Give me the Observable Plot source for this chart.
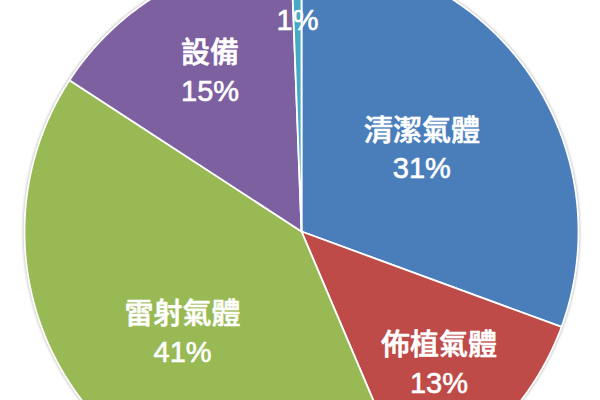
<!DOCTYPE html>
<html>
<head>
<meta charset="utf-8">
<script src="https://cdn.jsdelivr.net/npm/d3@7"></script>
<script src="https://cdn.jsdelivr.net/npm/@observablehq/plot@0.6"></script>
<style>
  html, body { margin: 0; padding: 0; background: #fff; }
  #chart svg g[aria-label="line"] { filter: drop-shadow(0px 0px 1.5px rgba(0,0,0,0.35)); }
</style>
</head>
<body>
<div id="chart"></div>
<script>
// Data, clockwise from 12 o'clock
const categories = ["清潔氣體", "佈植氣體", "雷射氣體", "設備", "其他"];
const values = [30.6, 13.0, 40.6, 15.2, 0.6];
const showName = [true, true, true, true, false];
const colors = ["#4A7EBB", "#BE4B48", "#98B954", "#7D60A0", "#46AAC5"];

// Layout
const W = 600, H = 400;
const cx = 301, cy = 231, R = 277;
const labelRadiusFrac = [0.53, 0.685, 0.56, 0.67, 0.77];

const total = d3.sum(values);
const arcs = d3.pie().sort(null).startAngle(0).endAngle(2 * Math.PI)(values);

// Slice outlines (center + sampled arc), in a coordinate system centred on the pie
const slicePts = [];
arcs.forEach((a, i) => {
  const name = categories[i];
  slicePts.push({name, x: 0, y: 0});
  const n = Math.max(2, Math.ceil((a.endAngle - a.startAngle) / (Math.PI / 360)));
  for (let k = 0; k <= n; k++) {
    const t = a.startAngle + (a.endAngle - a.startAngle) * k / n;
    slicePts.push({name, x: R * Math.sin(t), y: R * Math.cos(t)});
  }
});

const labels = arcs.map((a, i) => {
  const m = (a.startAngle + a.endAngle) / 2;
  const r = R * labelRadiusFrac[i];
  const pct = Math.round(values[i] / total * 100) + "%";
  return {
    x: r * Math.sin(m),
    y: r * Math.cos(m),
    text: showName[i] ? categories[i] + "\n" + pct : pct
  };
});

const chart = Plot.plot({
  width: W,
  height: H,
  margin: 0,
  x: {domain: [-cx, W - cx], range: [0, W], axis: null},
  y: {domain: [cy - H, cy], range: [H, 0], axis: null},
  color: {domain: categories, range: colors},
  style: {background: "white"},
  marks: [
    Plot.line(slicePts, {
      x: "x", y: "y", z: "name",
      fill: "name",
      stroke: "white",
      strokeWidth: 1.8,
      strokeLinejoin: "round",
      curve: "linear-closed"
    }),
    Plot.text(labels, {
      x: "x", y: "y", text: "text",
      fill: "white",
      stroke: "white",
      strokeWidth: 0.6,
      fontSize: 29,
      fontWeight: 500,
      fontFamily: "'Liberation Sans', 'Noto Sans CJK TC', sans-serif",
      lineAnchor: "middle",
      lineHeight: 1.3,
      textAnchor: "middle"
    })
  ]
});
document.getElementById("chart").appendChild(chart);
</script>
</body>
</html>
